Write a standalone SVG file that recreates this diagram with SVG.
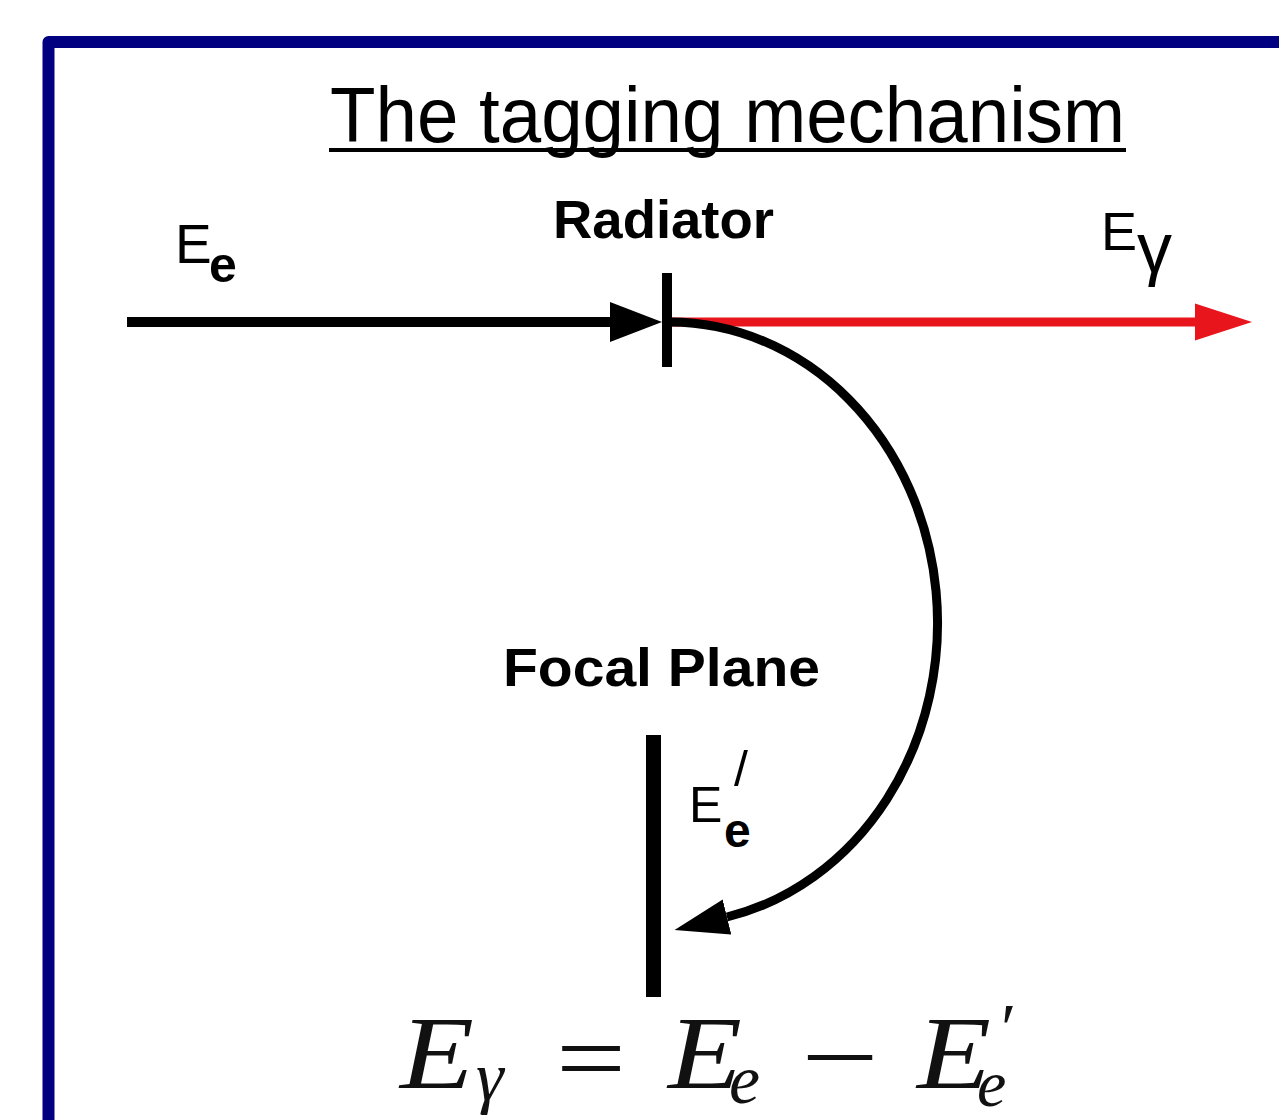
<svg xmlns="http://www.w3.org/2000/svg" width="1279" height="1120" viewBox="0 0 1279 1120">
<defs>
<style>
.sans{font-family:"Liberation Sans",Arial,sans-serif;fill:#000}
.bold{font-weight:bold}
.math{font-family:"Liberation Serif","Times New Roman",serif;fill:#111}
.it{font-style:italic}
</style>
<marker id="headBlack" viewBox="0 -21 53 42" refX="0" refY="0" markerWidth="53" markerHeight="42" markerUnits="userSpaceOnUse" orient="auto">
<path d="M0,-20 L52,0 L0,20 z" fill="#000"/>
</marker>
<marker id="headRed" viewBox="0 -19 58 38" refX="0" refY="0" markerWidth="58" markerHeight="38" markerUnits="userSpaceOnUse" orient="auto">
<path d="M0,-18.5 L57,0 L0,18.5 z" fill="#e8161c"/>
</marker>
<marker id="headCurve" viewBox="0 -19 56 38" refX="0" refY="0" markerWidth="56" markerHeight="38" markerUnits="userSpaceOnUse" orient="auto">
<path d="M0,-18 L54,0 L0,18 z" fill="#000"/>
</marker>
</defs>
<rect x="0" y="0" width="1279" height="1120" fill="#fff"/>
<rect id="frame" x="48.5" y="42" width="1300" height="1200" fill="none" stroke="#000080" stroke-width="12" stroke-linejoin="round"/>

<g id="title">
<text class="sans" x="330" y="142" font-size="78" textLength="795" lengthAdjust="spacingAndGlyphs">The tagging mechanism</text>
<line x1="329" y1="150" x2="1126" y2="150" stroke="#000" stroke-width="4"/>
</g>

<g id="connectors">
<path d="M127,322 L610,322" fill="none" stroke="#000" stroke-width="10" marker-end="url(#headBlack)"/>
<path d="M672,322 L1195,322" fill="none" stroke="#e8161c" stroke-width="9" marker-end="url(#headRed)"/>
<path d="M670,322 A268,301 0 0 1 727,917" fill="none" stroke="#000" stroke-width="9" marker-end="url(#headCurve)"/>
</g>

<g id="radiator">
<rect x="662" y="273" width="10" height="94" fill="#000"/>
<text class="sans bold" x="553" y="238" font-size="53" textLength="221" lengthAdjust="spacingAndGlyphs">Radiator</text>
</g>

<g id="focal-plane">
<rect x="646" y="735" width="15" height="262" fill="#000"/>
<text class="sans bold" x="503" y="686" font-size="54" textLength="317" lengthAdjust="spacingAndGlyphs">Focal Plane</text>
</g>

<g id="label-Ee">
<text class="sans" x="175" y="263" font-size="55">E</text>
<text class="sans bold" x="209" y="282" font-size="50">e</text>
</g>

<g id="label-Egamma">
<text class="sans" x="1101" y="250" font-size="54">E</text>
<text class="sans" x="1137" y="272" font-size="70">γ</text>
</g>

<g id="label-Eeprime">
<text class="sans" x="689" y="822" font-size="50">E</text>
<text class="sans" x="734" y="786" font-size="50">/</text>
<text class="sans bold" x="724" y="847" font-size="48">e</text>
</g>

<g id="equation">
<text class="math it" x="400" y="1088" font-size="103" textLength="74" lengthAdjust="spacingAndGlyphs">E</text>
<text class="math it" x="476" y="1100" font-size="70">γ</text>
<text class="math" x="556" y="1092" font-size="100" textLength="70" lengthAdjust="spacingAndGlyphs">=</text>
<text class="math it" x="668" y="1088" font-size="103" textLength="74" lengthAdjust="spacingAndGlyphs">E</text>
<text class="math it" x="729" y="1103" font-size="70">e</text>
<text class="math" x="801" y="1091" font-size="100" textLength="78" lengthAdjust="spacingAndGlyphs">−</text>
<text class="math it" x="917" y="1088" font-size="103" textLength="74" lengthAdjust="spacingAndGlyphs">E</text>
<text class="math" x="1001" y="1052" font-size="70">′</text>
<text class="math it" x="977" y="1106" font-size="66">e</text>
</g>
</svg>
